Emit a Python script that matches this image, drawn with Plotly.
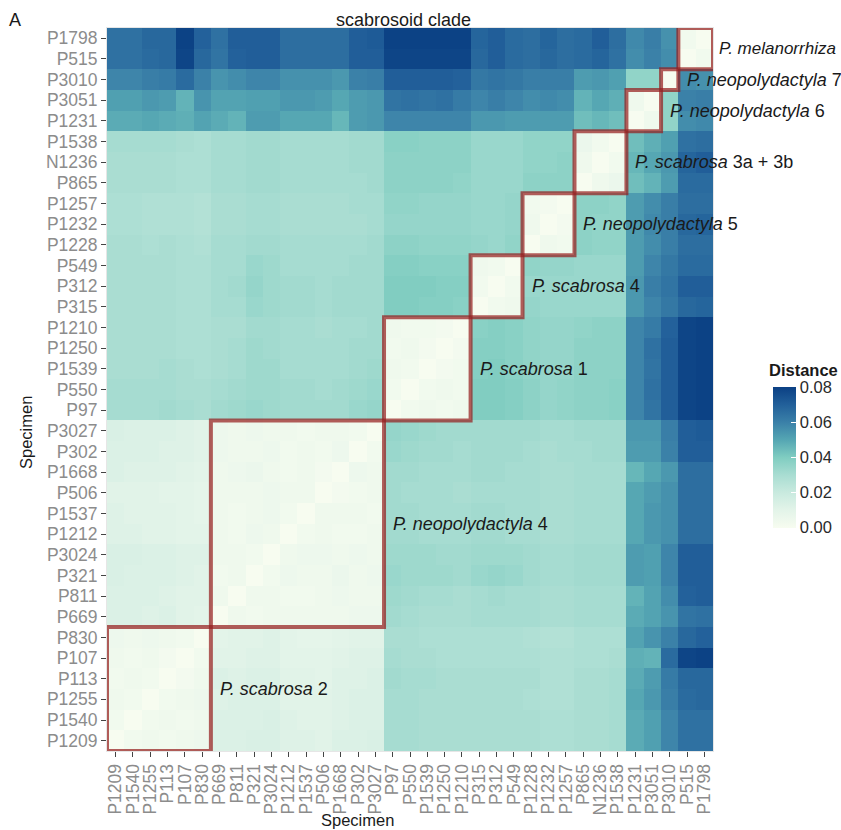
import plotly.graph_objects as go

# ---------------- data ----------------
specimens = ["P1209", "P1540", "P1255", "P113", "P107", "P830",
             "P669", "P811", "P321", "P3024", "P1212", "P1537", "P506", "P1668", "P302", "P3027",
             "P97", "P550", "P1539", "P1250", "P1210",
             "P315", "P312", "P549",
             "P1228", "P1232", "P1257",
             "P865", "N1236", "P1538",
             "P1231", "P3051",
             "P3010",
             "P515", "P1798"]

# lower-triangle distances: each specimen to all specimens listed before it
dist_P1209 = []
dist_P1540 = [0.003]
dist_P1255 = [0.004, 0.003]
dist_P113 = [0.003, 0.004, 0.003]
dist_P107 = [0.004, 0.003, 0.004, 0.002]
dist_P830 = [0.005, 0.004, 0.005, 0.004, 0.003]
dist_P669 = [0.013, 0.013, 0.012, 0.013, 0.011, 0.010]
dist_P811 = [0.013, 0.013, 0.013, 0.012, 0.011, 0.011, 0.004]
dist_P321 = [0.014, 0.013, 0.013, 0.013, 0.012, 0.011, 0.003, 0.004]
dist_P3024 = [0.014, 0.014, 0.013, 0.013, 0.012, 0.012, 0.004, 0.004, 0.003]
dist_P1212 = [0.012, 0.012, 0.011, 0.011, 0.010, 0.010, 0.004, 0.003, 0.005, 0.004]
dist_P1537 = [0.012, 0.011, 0.011, 0.011, 0.010, 0.009, 0.004, 0.003, 0.004, 0.005, 0.003]
dist_P506 = [0.011, 0.011, 0.011, 0.010, 0.010, 0.009, 0.004, 0.004, 0.004, 0.005, 0.004, 0.004]
dist_P1668 = [0.013, 0.012, 0.012, 0.012, 0.011, 0.010, 0.004, 0.005, 0.006, 0.004, 0.003, 0.004, 0.002]
dist_P302 = [0.013, 0.013, 0.013, 0.012, 0.012, 0.011, 0.005, 0.004, 0.004, 0.005, 0.003, 0.004, 0.003, 0.005]
dist_P3027 = [0.014, 0.013, 0.013, 0.013, 0.012, 0.011, 0.005, 0.004, 0.005, 0.004, 0.004, 0.003, 0.004, 0.004, 0.003]
dist_P97 = [0.031, 0.031, 0.031, 0.032, 0.031, 0.030, 0.032, 0.033, 0.034, 0.033, 0.032, 0.032, 0.032, 0.032, 0.034, 0.035]
dist_P550 = [0.031, 0.031, 0.031, 0.031, 0.030, 0.030, 0.031, 0.032, 0.033, 0.033, 0.032, 0.032, 0.031, 0.032, 0.033, 0.034,
             0.003]
dist_P1539 = [0.030, 0.030, 0.030, 0.031, 0.030, 0.029, 0.030, 0.031, 0.033, 0.033, 0.031, 0.031, 0.031, 0.031, 0.032, 0.033,
              0.004, 0.003]
dist_P1250 = [0.030, 0.030, 0.030, 0.030, 0.029, 0.029, 0.030, 0.031, 0.033, 0.032, 0.031, 0.031, 0.031, 0.031, 0.032, 0.032,
              0.003, 0.004, 0.002]
dist_P1210 = [0.030, 0.030, 0.030, 0.030, 0.029, 0.029, 0.030, 0.030, 0.032, 0.032, 0.031, 0.031, 0.030, 0.031, 0.031, 0.032,
              0.004, 0.003, 0.003, 0.002]
dist_P315 = [0.030, 0.030, 0.030, 0.030, 0.029, 0.029, 0.031, 0.031, 0.034, 0.033, 0.032, 0.032, 0.031, 0.032, 0.032, 0.032,
             0.040, 0.040, 0.039, 0.039, 0.038]
dist_P312 = [0.030, 0.030, 0.030, 0.030, 0.029, 0.029, 0.031, 0.032, 0.035, 0.033, 0.032, 0.032, 0.031, 0.032, 0.032, 0.032,
             0.040, 0.040, 0.040, 0.039, 0.039, 0.003]
dist_P549 = [0.030, 0.030, 0.030, 0.030, 0.029, 0.029, 0.031, 0.031, 0.034, 0.033, 0.031, 0.031, 0.031, 0.031, 0.032, 0.032,
             0.039, 0.039, 0.038, 0.038, 0.038, 0.004, 0.003]
dist_P1228 = [0.030, 0.030, 0.029, 0.030, 0.029, 0.028, 0.031, 0.031, 0.032, 0.032, 0.031, 0.031, 0.031, 0.031, 0.031, 0.032,
              0.037, 0.037, 0.036, 0.036, 0.036, 0.035, 0.034, 0.036]
dist_P1232 = [0.029, 0.029, 0.028, 0.028, 0.028, 0.027, 0.030, 0.030, 0.031, 0.031, 0.030, 0.030, 0.030, 0.030, 0.030, 0.031,
              0.035, 0.035, 0.035, 0.035, 0.035, 0.034, 0.034, 0.035, 0.004]
dist_P1257 = [0.029, 0.029, 0.028, 0.028, 0.028, 0.027, 0.030, 0.030, 0.031, 0.031, 0.030, 0.030, 0.030, 0.030, 0.031, 0.031,
              0.036, 0.036, 0.035, 0.035, 0.035, 0.034, 0.034, 0.035, 0.003, 0.002]
dist_P865 = [0.030, 0.030, 0.030, 0.030, 0.029, 0.029, 0.031, 0.031, 0.032, 0.032, 0.031, 0.031, 0.031, 0.031, 0.031, 0.032,
             0.037, 0.037, 0.037, 0.037, 0.036, 0.034, 0.034, 0.034, 0.037, 0.037, 0.037]
dist_N1236 = [0.030, 0.030, 0.030, 0.030, 0.029, 0.029, 0.031, 0.031, 0.032, 0.032, 0.031, 0.031, 0.031, 0.031, 0.032, 0.032,
              0.037, 0.037, 0.037, 0.037, 0.037, 0.034, 0.034, 0.034, 0.036, 0.036, 0.037, 0.004]
dist_P1538 = [0.031, 0.031, 0.031, 0.031, 0.030, 0.029, 0.031, 0.031, 0.032, 0.032, 0.031, 0.031, 0.031, 0.031, 0.032, 0.032,
              0.038, 0.038, 0.037, 0.037, 0.037, 0.034, 0.034, 0.034, 0.036, 0.036, 0.036, 0.006, 0.003]
dist_P1231 = [0.049, 0.049, 0.050, 0.049, 0.048, 0.051, 0.049, 0.047, 0.053, 0.053, 0.050, 0.050, 0.050, 0.046, 0.053, 0.054,
              0.059, 0.059, 0.059, 0.059, 0.059, 0.054, 0.054, 0.053, 0.053, 0.053, 0.053, 0.044, 0.046, 0.044]
dist_P3051 = [0.052, 0.052, 0.054, 0.053, 0.047, 0.055, 0.051, 0.051, 0.052, 0.052, 0.054, 0.054, 0.053, 0.050, 0.053, 0.054,
              0.064, 0.065, 0.064, 0.065, 0.062, 0.059, 0.061, 0.059, 0.057, 0.058, 0.057, 0.047, 0.050, 0.048, 0.004]
dist_P3010 = [0.059, 0.059, 0.061, 0.062, 0.067, 0.060, 0.055, 0.057, 0.059, 0.059, 0.056, 0.056, 0.056, 0.054, 0.060, 0.061,
              0.071, 0.071, 0.071, 0.071, 0.070, 0.063, 0.064, 0.063, 0.061, 0.061, 0.061, 0.053, 0.054, 0.052, 0.036, 0.036]
dist_P515 = [0.065, 0.065, 0.067, 0.068, 0.079, 0.068, 0.064, 0.070, 0.071, 0.071, 0.066, 0.066, 0.066, 0.066, 0.071, 0.071,
             0.079, 0.079, 0.079, 0.079, 0.079, 0.068, 0.071, 0.067, 0.066, 0.068, 0.066, 0.067, 0.069, 0.065, 0.057, 0.060,
             0.057]
dist_P1798 = [0.065, 0.065, 0.068, 0.068, 0.080, 0.070, 0.065, 0.071, 0.071, 0.071, 0.066, 0.066, 0.066, 0.066, 0.071, 0.072,
              0.080, 0.080, 0.080, 0.080, 0.080, 0.069, 0.071, 0.067, 0.066, 0.069, 0.066, 0.067, 0.071, 0.066, 0.058, 0.061,
              0.056, 0.003]

lower_rows = [dist_P1209, dist_P1540, dist_P1255, dist_P113, dist_P107, dist_P830,
              dist_P669, dist_P811, dist_P321, dist_P3024, dist_P1212, dist_P1537, dist_P506, dist_P1668, dist_P302,
              dist_P3027, dist_P97, dist_P550, dist_P1539, dist_P1250, dist_P1210,
              dist_P315, dist_P312, dist_P549, dist_P1228, dist_P1232, dist_P1257,
              dist_P865, dist_N1236, dist_P1538, dist_P1231, dist_P3051, dist_P3010, dist_P515, dist_P1798]

# clade groups: (species, suffix, first specimen, last specimen)
group_species = ["P. scabrosa", "P. neopolydactyla", "P. scabrosa", "P. scabrosa", "P. neopolydactyla",
                 "P. scabrosa", "P. neopolydactyla", "P. neopolydactyla", "P. melanorrhiza"]
group_suffix = ["2", "4", "1", "4", "5", "3a + 3b", "6", "7", ""]
group_first = ["P1209", "P669", "P97", "P315", "P1228", "P865", "P1231", "P3010", "P515"]
group_last = ["P830", "P3027", "P1210", "P549", "P1257", "P1538", "P3051", "P3010", "P1798"]

colorbar_ticks = [0.00, 0.02, 0.04, 0.06, 0.08]

# ---------------- build symmetric matrix ----------------
n = len(specimens)
z = [[0.0] * n for _ in range(n)]
for i, row in enumerate(lower_rows):
    for j, v in enumerate(row):
        z[i][j] = v
        z[j][i] = v

colorscale = [
    [0.000, "#f7fcf0"],
    [0.125, "#e3f4e9"],
    [0.250, "#c9eadf"],
    [0.375, "#a9ddd2"],
    [0.500, "#80cdc1"],
    [0.625, "#55a6b3"],
    [0.750, "#3a80a8"],
    [0.875, "#22609a"],
    [1.000, "#0b4084"],
]

FONT = "Liberation Sans, Arial, sans-serif"

# plot-area geometry (pixels)
W, H = 841, 830
L, R, T, B = 107, 713, 28, 751
pw, ph = R - L, B - T

def px_x(p):
    return (p - L) / pw

def px_y(p):
    return (B - p) / ph

zmax = 0.0805

fig = go.Figure()
fig.add_trace(go.Heatmap(
    z=z, x=specimens, y=specimens,
    zmin=0, zmax=zmax,
    colorscale=colorscale,
    xgap=0, ygap=0,
    colorbar=dict(
        x=px_x(773), xanchor="left", xpad=0,
        y=px_y(457), yanchor="middle", ypad=0,
        len=141, lenmode="pixels",
        thickness=23, thicknessmode="pixels",
        outlinewidth=0,
        tickvals=colorbar_ticks,
        ticktext=["%.2f" % t for t in colorbar_ticks],
        ticks="inside", ticklen=5, tickcolor="white", tickwidth=1,
        tickfont=dict(family=FONT, size=16.5, color="#2a2a2a"),
    ),
    hovertemplate="%{x} – %{y}: %{z:.3f}<extra></extra>",
))

shapes = []
annotations = []
idx = {s: i for i, s in enumerate(specimens)}
last_group = len(group_species) - 1
for g, (sp, suf, a, b) in enumerate(zip(group_species, group_suffix, group_first, group_last)):
    i0, i1 = idx[a], idx[b]
    shapes.append(dict(
        type="rect", xref="x", yref="y",
        x0=i0 - 0.5, x1=i1 + 0.5, y0=i0 - 0.5, y1=i1 + 0.5,
        line=dict(color="rgba(150,30,30,0.72)", width=4),
        fillcolor="rgba(0,0,0,0)", layer="above",
    ))
    label = "<i>%s</i>" % sp + (" %s" % suf if suf else "")
    annotations.append(dict(
        x=i1 + 0.5, y=(i0 + i1) / 2.0, xref="x", yref="y",
        text=label, showarrow=False, xanchor="left", yanchor="middle",
        xshift=4 if g == last_group else 7,
        font=dict(family=FONT, size=17 if g == last_group else 18, color="#1a1a1a"),
    ))

# titles
annotations += [
    dict(x=px_x(403), y=px_y(20), xref="paper", yref="paper", text="scabrosoid clade",
         showarrow=False, xanchor="center", yanchor="middle",
         font=dict(family=FONT, size=18, color="#1a1a1a")),
    dict(x=px_x(15), y=px_y(20), xref="paper", yref="paper", text="A",
         showarrow=False, xanchor="center", yanchor="middle",
         font=dict(family=FONT, size=18, color="#1a1a1a")),
    dict(x=px_x(357), y=px_y(820), xref="paper", yref="paper", text="Specimen",
         showarrow=False, xanchor="center", yanchor="middle",
         font=dict(family=FONT, size=16.5, color="#1a1a1a")),
    dict(x=px_x(26), y=px_y(433), xref="paper", yref="paper", text="Specimen", textangle=-90,
         showarrow=False, xanchor="center", yanchor="middle",
         font=dict(family=FONT, size=16.5, color="#1a1a1a")),
    dict(x=px_x(767), y=px_y(370), xref="paper", yref="paper", text="<b>Distance</b>",
         showarrow=False, xanchor="left", yanchor="middle",
         font=dict(family=FONT, size=16.5, color="#1a1a1a")),
]

axis_common = dict(
    type="category", showgrid=False, zeroline=False, automargin=False,
    tickmode="array", tickvals=specimens, ticktext=specimens,
    ticks="outside", ticklen=5, tickcolor="#444444", tickwidth=1,
    tickfont=dict(family=FONT, size=17.5, color="#8c8c8c"),
    showline=True, linecolor="#e6e6e6", linewidth=1, mirror=True,
    range=[-0.5, n - 0.5], fixedrange=True,
)

fig.update_layout(
    width=W, height=H,
    margin=dict(l=L, r=W - R, t=T, b=H - B, pad=0, autoexpand=False),
    paper_bgcolor="white", plot_bgcolor="#ebebeb",
    xaxis=dict(axis_common, tickangle=-90),
    yaxis=dict(axis_common),
    shapes=shapes,
    annotations=annotations,
    font=dict(family=FONT),
)

fig.write_html(
    "out.html",
    config={"displayModeBar": False},
    post_script="document.body.style.margin='0';document.body.style.padding='0';"
                "document.documentElement.style.overflow='hidden';",
)
